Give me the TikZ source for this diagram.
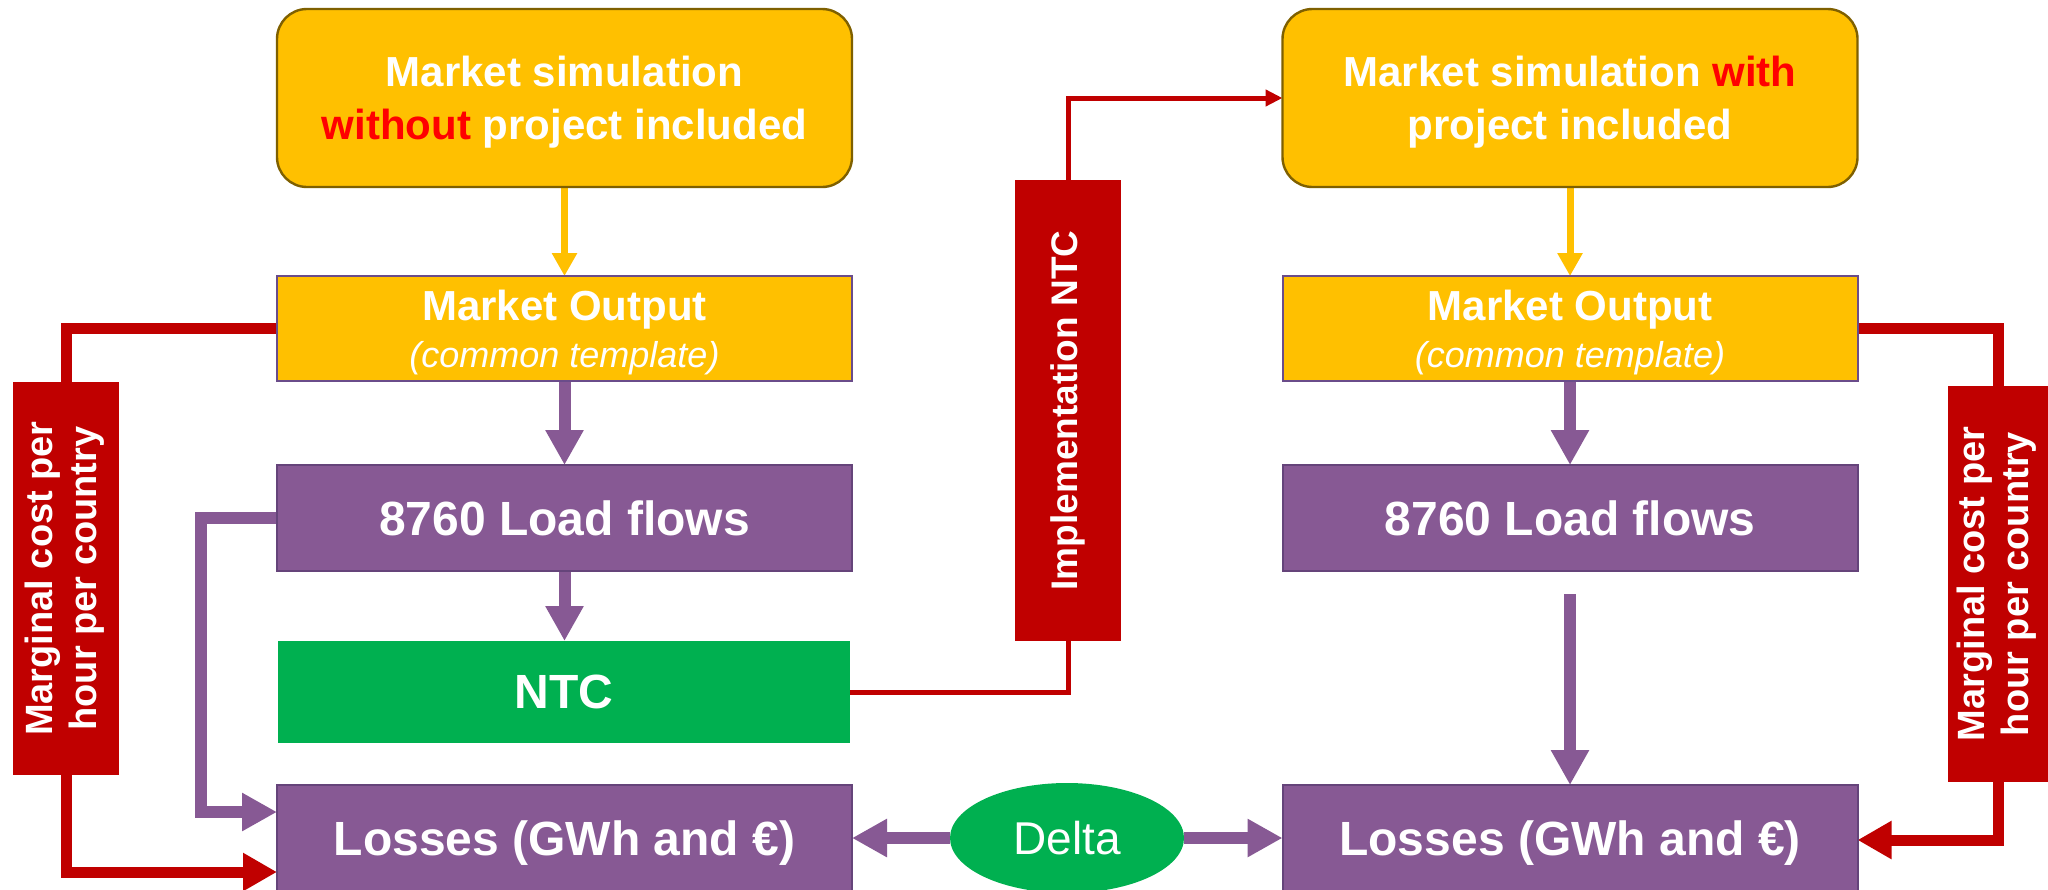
\documentclass[tikz,border=0pt]{standalone}
\usepackage{fontspec}
\usepackage{graphicx}
\setmainfont{Liberation Sans}
\usetikzlibrary{arrows.meta,shapes.geometric,calc,backgrounds}

\definecolor{simyellow}{HTML}{FFC000}
\definecolor{simborder}{HTML}{7F6000}
\definecolor{outborder}{HTML}{6A4C8A}
\definecolor{flowpurple}{HTML}{875994}
\definecolor{flowborder}{HTML}{65447A}
\definecolor{ntcgreen}{HTML}{00B050}
\definecolor{tagred}{HTML}{C00000}
\definecolor{withred}{HTML}{FF0000}

\begin{document}
\begin{tikzpicture}[x=0.5pt,y=-0.5pt,
  every node/.style={inner sep=0pt, outer sep=0pt, text=white},
  simbox/.style={draw=simborder, line width=1.2pt, fill=simyellow, rounded corners=15pt,
    minimum width=287.5pt, minimum height=89pt, align=center, text depth=-5pt,
    font=\bfseries\fontsize{21}{26.5}\selectfont},
  outbox/.style={draw=outborder, line width=1pt, fill=simyellow,
    minimum width=287.5pt, minimum height=52.5pt, align=center, text depth=-3.5pt,
    font=\fontsize{21}{23.5}\selectfont},
  flowbox/.style={draw=flowborder, line width=1pt, fill=flowpurple,
    minimum width=287.5pt, minimum height=53pt,
    font=\bfseries\fontsize{24}{28}\selectfont},
  ntcbox/.style={fill=ntcgreen, minimum width=286pt, minimum height=51pt,
    font=\bfseries\fontsize{24}{28}\selectfont},
  tagbox/.style={fill=tagred, font=\bfseries\fontsize{19}{22}\selectfont},
  yarrow/.style={draw=simyellow, line width=3.5pt, -{Triangle[width=12pt,length=11.5pt]}},
  parrow/.style={draw=flowpurple, line width=6pt, -{Triangle[width=18pt,length=17.5pt]}},
  rthick/.style={draw=tagred, line width=5.5pt},
  rthin/.style={draw=tagred, line width=2.5pt},
]
\useasboundingbox (0,0) rectangle (2048,889);

% left chain: simulation without the project
\node[simbox] (siml) at (564.5,98) {Market simulation\\\textcolor{withred}{without} project included};
\node[outbox] (outl) at (564.5,328.5) {{\bfseries Market Output}\\{\itshape\fontsize{18}{23.5}\selectfont (common template)}};
\node[flowbox] (lfl) at (564.5,518) {8760 Load flows};
\node[ntcbox] (ntc) at (564,692) {NTC};
\node[flowbox, minimum height=55pt, text depth=2pt] (lossl) at (564.5,840) {Losses (GWh and €)};

% right chain: simulation with the project
\node[simbox] (simr) at (1570,98) {Market simulation \textcolor{withred}{with}\\project included};
\node[outbox] (outr) at (1570,328.5) {{\bfseries Market Output}\\{\itshape\fontsize{18}{23.5}\selectfont (common template)}};
\node[flowbox] (lfr) at (1570,518) {8760 Load flows};
\node[flowbox, minimum height=55pt, text depth=2pt] (lossr) at (1570,840) {Losses (GWh and €)};

% comparison
\node[ellipse, fill=ntcgreen, minimum width=117pt, minimum height=55pt,
  font=\fontsize{23}{27}\selectfont] (delta) at (1067,838) {Delta};

% vertical tags on the connectors
\node[tagbox, minimum width=53pt, minimum height=196.5pt] (mcl) at (66,578.5)
  {\rotatebox{90}{\begin{tabular}{@{}c@{}}Marginal cost per\\hour per country\end{tabular}}};
\node[tagbox, minimum width=50pt, minimum height=198pt] (mcr) at (1998,584)
  {\rotatebox{90}{\begin{tabular}{@{}c@{}}Marginal cost per\\hour per country\end{tabular}}};
\node[tagbox, minimum width=53pt, minimum height=230.5pt, font=\bfseries\fontsize{18.5}{22}\selectfont] (impl) at (1068,410.5)
  {\rotatebox{90}{Implementation NTC}};

\coordinate (lbend) at (201,812);

\begin{scope}[on background layer]
  \fill[white] (0,0) rectangle (2048,889);

  \draw[yarrow] (siml.south) -- (outl.north);
  \draw[yarrow] (simr.south) -- (outr.north);

  \draw[parrow] (outl.south) -- (lfl.north);
  \draw[parrow] (lfl.south) -- (lfl.south |- ntc.north);
  \draw[parrow] (lfl.west) -| (lbend) -- (lbend -| lossl.west);

  \draw[parrow] (outr.south) -- (lfr.north);
  \draw[parrow, shorten <=11.5pt] (lfr.south) -- (lossr.north);

  \draw[parrow] (delta.west) -- (delta.west -| lossl.east);
  \draw[parrow] (delta.east) -- (delta.east -| lossr.west);

  \draw[rthick] (outl.west) -| (mcl.north);
  \draw[rthick, -{Triangle[width=18pt,length=17pt]}] (mcl.south) |- ($(lossl.west)+(0,32)$);

  \draw[rthick] (outr.east) -| (mcr.north);
  \draw[rthick, -{Triangle[width=18pt,length=17pt]}] (mcr.south) |- (lossr.east);

  \draw[rthin] (ntc.east) -| (impl.south);
  \draw[rthin, -{Triangle[width=8pt,length=8.5pt]}] (impl.north) |- (simr.west);
\end{scope}
\end{tikzpicture}
\end{document}
